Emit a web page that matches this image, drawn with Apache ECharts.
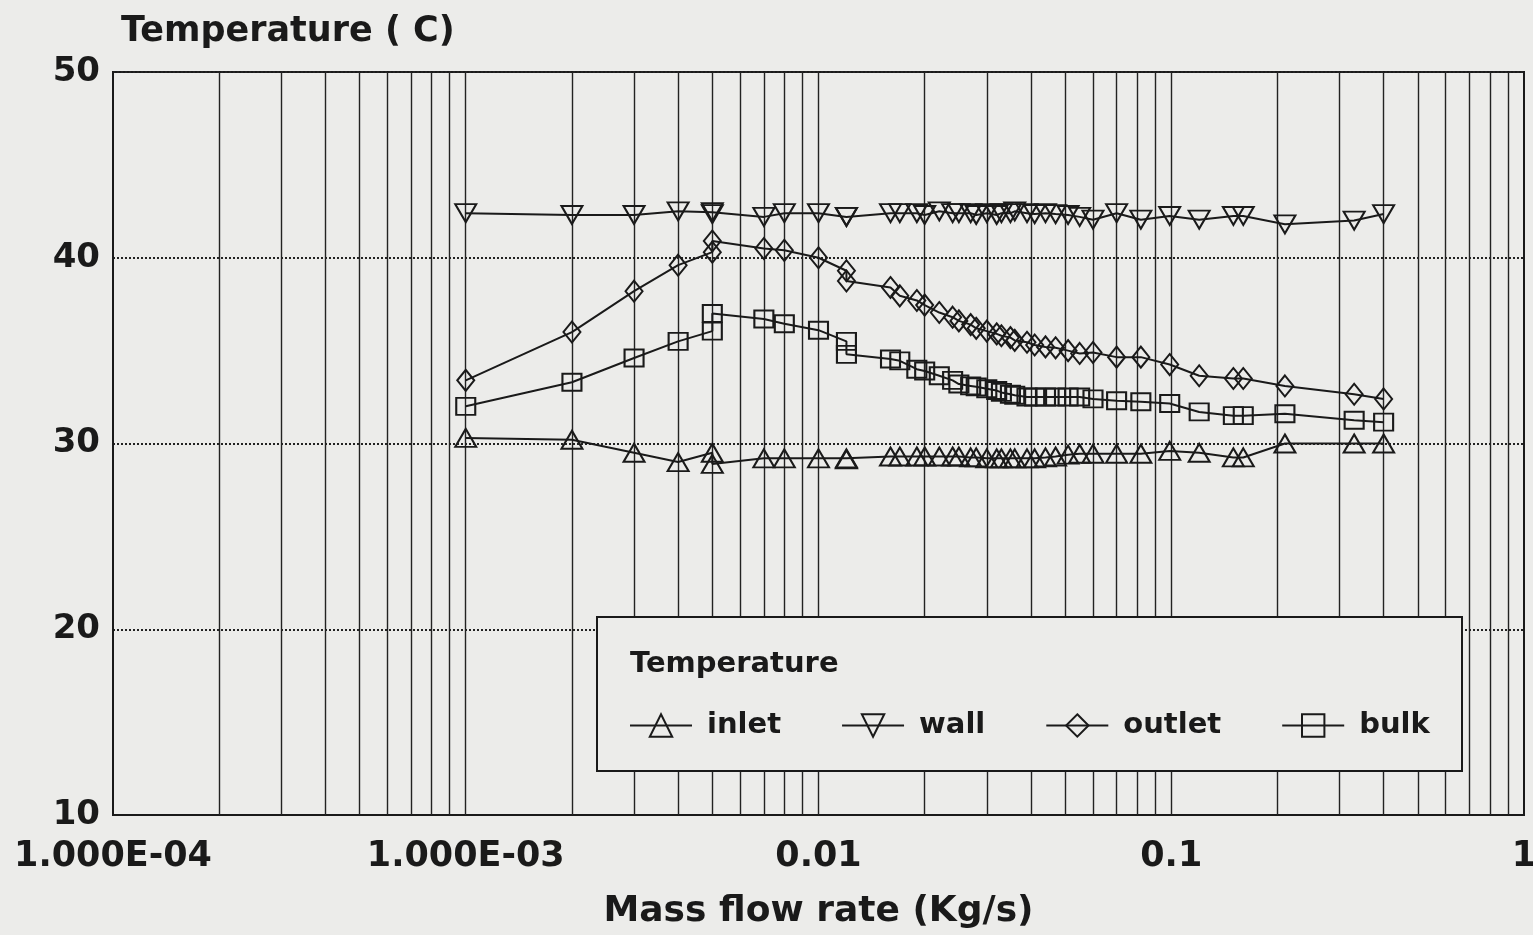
<!DOCTYPE html>
<html>
<head>
<meta charset="utf-8">
<script src="https://cdn.jsdelivr.net/npm/echarts@6/dist/echarts.min.js"></script>
<style>
html,body{margin:0;padding:0;background:#ececea;overflow:hidden;}
#chart{width:1533px;height:935px;}
</style>
</head>
<body>
<div id="chart"></div>
<script>
// Mass flow rate (kg/s)
var flowRate = [0.001, 0.002, 0.003, 0.004, 0.005, 0.005, 0.007, 0.008, 0.01, 0.012, 0.012,
  0.016, 0.017, 0.019, 0.020, 0.022, 0.024, 0.025, 0.027, 0.028, 0.030, 0.032, 0.033, 0.035, 0.036,
  0.039, 0.041, 0.044, 0.047, 0.051, 0.055, 0.06, 0.07, 0.082, 0.099, 0.12, 0.15, 0.16, 0.21, 0.33, 0.40];
var inletT = [30.3, 30.2, 29.5, 29.0, 29.5, 28.9, 29.2, 29.2, 29.2, 29.2, 29.15,
  29.3, 29.3, 29.3, 29.3, 29.3, 29.3, 29.3, 29.25, 29.25, 29.2, 29.2, 29.2, 29.2, 29.2,
  29.2, 29.2, 29.25, 29.3, 29.4, 29.45, 29.45, 29.45, 29.45, 29.6, 29.5, 29.25, 29.25, 30.0, 30.0, 30.0];
var wallT = [42.4, 42.3, 42.3, 42.5, 42.45, 42.35, 42.2, 42.4, 42.4, 42.2, 42.2,
  42.4, 42.4, 42.4, 42.3, 42.5, 42.4, 42.4, 42.4, 42.3, 42.4, 42.3, 42.4, 42.4, 42.5,
  42.4, 42.35, 42.4, 42.35, 42.3, 42.2, 42.05, 42.4, 42.05, 42.25, 42.05, 42.25, 42.25, 41.8, 42.0, 42.35];
var outletT = [33.4, 36.0, 38.2, 39.6, 40.3, 40.9, 40.5, 40.4, 40.0, 39.3, 38.75,
  38.4, 37.95, 37.7, 37.45, 37.05, 36.8, 36.6, 36.4, 36.2, 36.05, 35.9, 35.8, 35.7, 35.55,
  35.45, 35.3, 35.2, 35.15, 35.0, 34.85, 34.9, 34.65, 34.65, 34.25, 33.65, 33.5, 33.5, 33.1, 32.65, 32.4];
var bulkT = [32.0, 33.3, 34.6, 35.5, 36.05, 37.0, 36.7, 36.45, 36.1, 35.5, 34.8,
  34.55, 34.45, 34.0, 33.9, 33.65, 33.4, 33.2, 33.1, 33.05, 32.95, 32.85, 32.75, 32.65, 32.6,
  32.5, 32.5, 32.5, 32.5, 32.5, 32.5, 32.4, 32.3, 32.25, 32.15, 31.7, 31.5, 31.5, 31.6, 31.25, 31.15];

var seriesNames = ['inlet', 'wall', 'outlet', 'bulk'];
var xTickLabels = ['1.000E-04', '1.000E-03', '0.01', '0.1', '1'];
var yTicks = [10, 20, 30, 40, 50];
// log-decade gridline positions
var decades = [0.0001, 0.001, 0.01, 0.1];
var gridMultipliers = [1, 2, 3, 4, 5, 6, 7, 8, 9];

function pairs(ys) { return flowRate.map(function (x, i) { return [x, ys[i]]; }); }

var gridX = [];
decades.forEach(function (d, di) {
  gridMultipliers.forEach(function (m) {
    if (di === 0 && m === 1) return;
    gridX.push(+(d * m).toPrecision(3));
  });
});

var FONT = '"DejaVu Sans", sans-serif';
var INK = '#1a1a1a';
var BG = '#ececea';

function mkSeries(name, ys, symbol, size, rot) {
  return {
    name: name, type: 'line', data: pairs(ys),
    symbol: symbol, symbolSize: size, symbolRotate: rot || 0,
    showAllSymbol: true,
    lineStyle: { color: INK, width: 2 },
    itemStyle: { color: 'rgba(0,0,0,0)', borderColor: INK, borderWidth: 2 },
    z: 5
  };
}

var chart = echarts.init(document.getElementById('chart'), null, { renderer: 'canvas' });
chart.setOption({
  backgroundColor: BG,
  animation: false,
  title: {
    text: 'Temperature ( C)', left: 116, top: 9,
    textStyle: { fontFamily: FONT, fontWeight: 'bold', fontSize: 35, color: INK }
  },
  grid: { left: 113, right: 9, top: 72, bottom: 120, outerBoundsMode: 'none', containLabel: false,
    show: true, borderColor: INK, borderWidth: 2, backgroundColor: 'transparent' },
  xAxis: {
    type: 'log', logBase: 10, min: 0.0001, max: 1,
    name: 'Mass flow rate (Kg/s)', nameLocation: 'middle', nameGap: 79,
    nameTextStyle: { fontFamily: FONT, fontWeight: 'bold', fontSize: 36, color: INK },
    axisLine: { lineStyle: { color: INK, width: 2 } },
    axisTick: { show: false },
    splitLine: { show: false },
    axisLabel: {
      margin: 24, fontFamily: FONT, fontWeight: 'bold', fontSize: 35, color: INK,
      formatter: function (v, i) { return xTickLabels[i] !== undefined ? xTickLabels[i] : ''; }
    }
  },
  yAxis: {
    type: 'value', min: yTicks[0], max: yTicks[yTicks.length - 1], interval: 10,
    axisLine: { lineStyle: { color: INK, width: 2 } },
    axisTick: { show: false },
    splitLine: { lineStyle: { color: '#222', type: 'dotted', width: 2 } },
    axisLabel: { margin: 13, fontFamily: FONT, fontWeight: 'bold', fontSize: 34, color: INK }
  },
  legend: {
    data: seriesNames, left: 624, top: 706, orient: 'horizontal',
    itemWidth: 62, itemHeight: 28, itemGap: 60, z: 60,
    textStyle: { fontFamily: FONT, fontWeight: 'bold', fontSize: 29, color: INK, padding: [0, 0, 0, 10] }
  },
  graphic: [
    { type: 'rect', z: 50, shape: { x: 597, y: 617, width: 865, height: 154 },
      style: { fill: BG, stroke: INK, lineWidth: 2 } },
    { type: 'text', z: 60, left: 630, top: 650,
      style: { text: 'Temperature', font: 'bold 29px ' + FONT, fill: INK } }
  ],
  series: [
    {
      name: 'gridlines', type: 'line', data: [[0.001, 30]], symbol: 'none',
      lineStyle: { opacity: 0 }, silent: true, z: 1,
      markLine: {
        silent: true, symbol: ['none', 'none'], label: { show: false },
        precision: 8,
        lineStyle: { color: '#222', type: 'solid', width: 1.4 },
        data: gridX.map(function (x) { return { xAxis: x }; }),
        animation: false
      }
    },
    mkSeries('inlet', inletT, 'triangle', [21, 18]),
    mkSeries('wall', wallT, 'triangle', [21, 18], 180),
    mkSeries('outlet', outletT, 'diamond', [17, 21]),
    mkSeries('bulk', bulkT, 'rect', [19, 17])
  ]
});
</script>
</body>
</html>
